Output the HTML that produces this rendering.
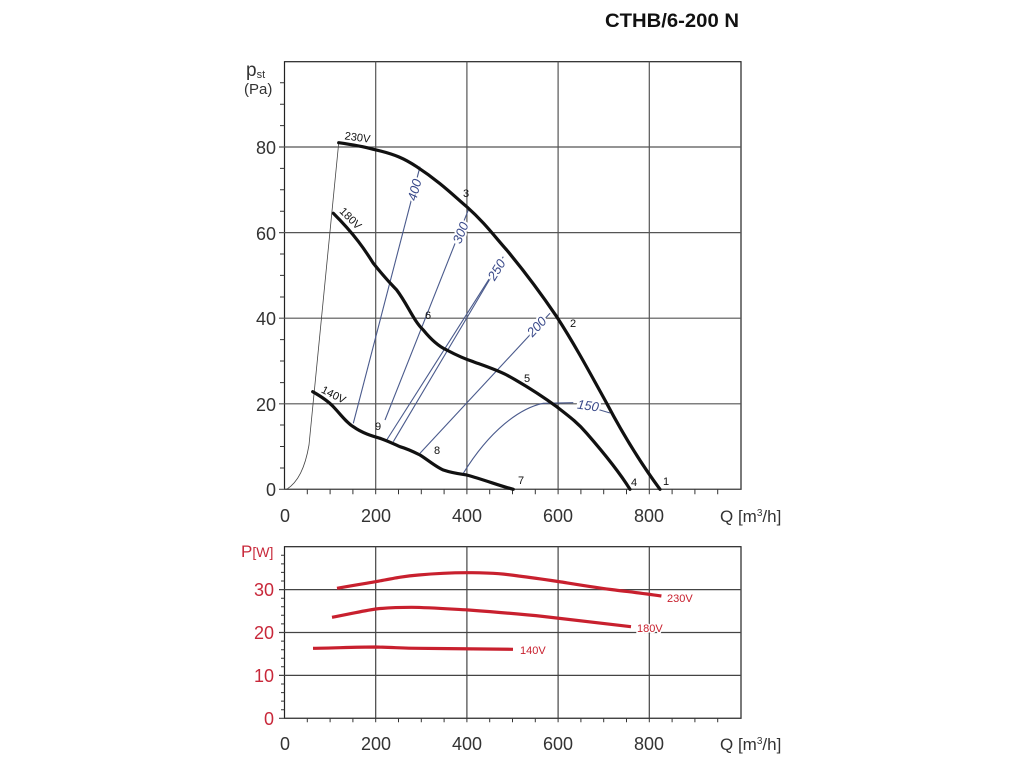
<!DOCTYPE html>
<html><head><meta charset="utf-8"><style>
html,body{margin:0;padding:0;background:#fff;}
svg{display:block;font-family:"Liberation Sans",Arial,sans-serif;}
</style></head><body>
<svg width="1024" height="768" viewBox="0 0 1024 768" xmlns="http://www.w3.org/2000/svg">
<text x="605" y="27" font-size="19" font-weight="bold" fill="#111" textLength="134" lengthAdjust="spacingAndGlyphs">CTHB/6-200 N</text>

<!-- TOP CHART -->
<g stroke="#555" stroke-width="1.2" fill="none">
<rect x="284.5" y="61.7" width="456.5" height="427.6" stroke="#222"/>
<line x1="375.7" y1="61.7" x2="375.7" y2="489.3"/>
<line x1="466.9" y1="61.7" x2="466.9" y2="489.3"/>
<line x1="558.1" y1="61.7" x2="558.1" y2="489.3"/>
<line x1="649.3" y1="61.7" x2="649.3" y2="489.3"/>
<line x1="279" y1="147" x2="741" y2="147"/>
<line x1="279" y1="232.6" x2="741" y2="232.6"/>
<line x1="279" y1="318.2" x2="741" y2="318.2"/>
<line x1="279" y1="403.8" x2="741" y2="403.8"/>
<line x1="279" y1="489.3" x2="741" y2="489.3"/>
</g>
<g stroke="#333" stroke-width="1">
<path d="M280 468h4.5M280 446.5h4.5M280 425h4.5M280 382.6h4.5M280 361h4.5M280 339.6h4.5M280 297h4.5M280 275.4h4.5M280 254h4.5M280 211.2h4.5M280 189.8h4.5M280 168.4h4.5M280 125.6h4.5M280 104.2h4.5M280 82.8h4.5"/>
<path d="M307.3 489.3v5M330.1 489.3v5M352.9 489.3v5M375.7 489.3v5M398.5 489.3v5M421.3 489.3v5M444.1 489.3v5M466.9 489.3v5M489.7 489.3v5M512.5 489.3v5M535.3 489.3v5M558.1 489.3v5M580.9 489.3v5M603.7 489.3v5M626.5 489.3v5M649.3 489.3v5M672.1 489.3v5M694.9 489.3v5M717.7 489.3v5"/>
</g>
<g font-size="18" fill="#333" text-anchor="end">
<text x="276" y="496">0</text><text x="276" y="411">20</text><text x="276" y="325">40</text><text x="276" y="240">60</text><text x="276" y="154">80</text>
</g>
<text x="246" y="76" font-size="19" fill="#333">p<tspan font-size="11" dy="2">st</tspan></text>
<text x="244" y="94" font-size="15" fill="#333">(Pa)</text>
<g font-size="18" fill="#333" text-anchor="middle">
<text x="285" y="522">0</text><text x="376" y="522">200</text><text x="467" y="522">400</text><text x="558" y="522">600</text><text x="649" y="522">800</text>
</g>
<text x="720" y="522" font-size="17" fill="#333">Q [m<tspan font-size="10" dy="-6">3</tspan><tspan dy="6">/h]</tspan></text>

<path d="M286.7 489.3 C298 482 305 468 309 445 L338.7 143" stroke="#444" stroke-width="0.8" fill="none"/>

<g stroke="#4a5a8c" stroke-width="1.1" fill="none">
<path d="M353.3 423.3 L420 166.7"/>
<path d="M385 420 L468.3 210"/>
<path d="M386.7 440 L503.3 256.7"/>
<path d="M393.3 441.7 L500 262"/>
<path d="M420 453.3 L550 313.3"/>
<path d="M463.3 473.3 C490 430 520 408 543.3 403.3 L573.3 402.7 M590 407 L610 413"/>
</g>
<g font-size="13" fill="#3a4a8a" stroke="#fff" stroke-width="4" paint-order="stroke" text-anchor="middle" font-style="italic">
<text transform="translate(415 190) rotate(-75)" dy="4">400</text>
<text transform="translate(461 233) rotate(-68)" dy="4">300</text>
<text transform="translate(497 270) rotate(-58)" dy="4">250</text>
<text transform="translate(537 327) rotate(-47)" dy="4">200</text>
<text transform="translate(588 406) rotate(8)" dy="4">150</text>
</g>

<g stroke="#111" stroke-width="3.2" fill="none" stroke-linejoin="round" stroke-linecap="round">
<path d="M338.7 142.7 C355 145 365 147 373.3 149.3 C395 154 405 159 416.7 166.7 C440 182 453 195 466.7 206.7 C485 223 495 237 506.7 250 C525 272 542 295 556.7 316.7 C575 345 590 373 606.7 403.3 C625 438 642 465 660 489.3"/>
<path d="M333.3 213.3 C355 235 365 250 373.3 263.3 C385 278 390 283 396.7 290 C408 305 413 320 423.3 330 C433 342 440 347 446.7 350 C458 356 465 359 473.3 361.7 C488 367 497 370 506.7 375 C525 385 542 396 556.7 406.7 C570 417 578 423 586.7 433.3 C603 452 618 470 630 489.3"/>
<path d="M312.7 391.7 C322 397 328 401 333.3 406.7 C342 416 347 423 353.3 426.7 C362 433 372 436 380 438.3 C388 441 394 444 400 446.7 C408 449 414 452 420 455 C428 460 436 467 443.3 470 C452 473 460 474 466.7 475 C485 480 500 486 513.3 489.3"/>
</g>
<g font-size="11" fill="#111" text-anchor="middle">
<text x="466" y="197">3</text><text x="573" y="327">2</text><text x="428" y="319">6</text><text x="527" y="382">5</text>
<text x="378" y="430">9</text><text x="437" y="454">8</text><text x="521" y="484">7</text><text x="634" y="486">4</text><text x="666" y="485">1</text>
<text transform="translate(357 141) rotate(8)">230V</text>
<text transform="translate(348 221) rotate(45)">180V</text>
<text transform="translate(332 398) rotate(27)">140V</text>
</g>

<!-- BOTTOM CHART -->
<g stroke="#444" stroke-width="1.2" fill="none">
<rect x="284.5" y="546.7" width="456.5" height="171.6" stroke="#222"/>
<line x1="375.7" y1="546.7" x2="375.7" y2="718.3"/>
<line x1="466.9" y1="546.7" x2="466.9" y2="718.3"/>
<line x1="558.1" y1="546.7" x2="558.1" y2="718.3"/>
<line x1="649.3" y1="546.7" x2="649.3" y2="718.3"/>
<line x1="279" y1="589.6" x2="741" y2="589.6"/>
<line x1="279" y1="632.5" x2="741" y2="632.5"/>
<line x1="279" y1="675.4" x2="741" y2="675.4"/>
<line x1="279" y1="718.3" x2="741" y2="718.3"/>
</g>
<g stroke="#333" stroke-width="1">
<path d="M281 709.7h3.5M281 701.1h3.5M281 692.6h3.5M281 684h3.5M281 666.8h3.5M281 658.2h3.5M281 649.7h3.5M281 641.1h3.5M281 623.9h3.5M281 615.3h3.5M281 606.8h3.5M281 598.2h3.5M281 581h3.5M281 572.4h3.5M281 563.9h3.5M281 555.3h3.5"/>
<path d="M307.3 718.3v4M330.1 718.3v4M352.9 718.3v4M375.7 718.3v4M398.5 718.3v4M421.3 718.3v4M444.1 718.3v4M466.9 718.3v4M489.7 718.3v4M512.5 718.3v4M535.3 718.3v4M558.1 718.3v4M580.9 718.3v4M603.7 718.3v4M626.5 718.3v4M649.3 718.3v4M672.1 718.3v4M694.9 718.3v4M717.7 718.3v4"/>
</g>
<g font-size="18" fill="#c8283a" text-anchor="end">
<text x="274" y="725">0</text><text x="274" y="682">10</text><text x="274" y="639">20</text><text x="274" y="596">30</text>
</g>
<text x="241" y="557" font-size="17" fill="#c8283a">P<tspan font-size="14">[W]</tspan></text>
<g font-size="18" fill="#333" text-anchor="middle">
<text x="285" y="750">0</text><text x="376" y="750">200</text><text x="467" y="750">400</text><text x="558" y="750">600</text><text x="649" y="750">800</text>
</g>
<text x="720" y="750" font-size="17" fill="#333">Q [m<tspan font-size="10" dy="-6">3</tspan><tspan dy="6">/h]</tspan></text>

<g stroke="#c8202e" stroke-width="3.2" fill="none" stroke-linecap="butt">
<path d="M337 588.3 C355 585 365 583.5 375.7 581.7 C395 578 405 576 418.6 575 C440 573 455 572.5 472 572.7 C495 573 505 574 518.6 576 C535 578 548 580 561.4 582 C580 585 598 588 615 590 C635 592.5 648 594 661.4 596"/>
<path d="M332 617.3 C350 614 362 611 375.7 609 C390 607.5 400 607.3 411.4 607.3 C430 607.5 450 609 468.6 610 C495 612 520 614 543.6 616.5 C570 619.5 600 623 631 626.7"/>
<path d="M313 648.3 C335 648 355 647 375.7 647 C395 647.5 405 648.3 418.6 648.3 C450 648.6 480 649 513 649.3"/>
</g>
<g font-size="11" fill="#c8202e" stroke="#fff" stroke-width="3" paint-order="stroke">
<text x="667" y="602">230V</text>
<text x="637" y="632">180V</text>
<text x="520" y="654">140V</text>
</g>
</svg>
</body></html>
